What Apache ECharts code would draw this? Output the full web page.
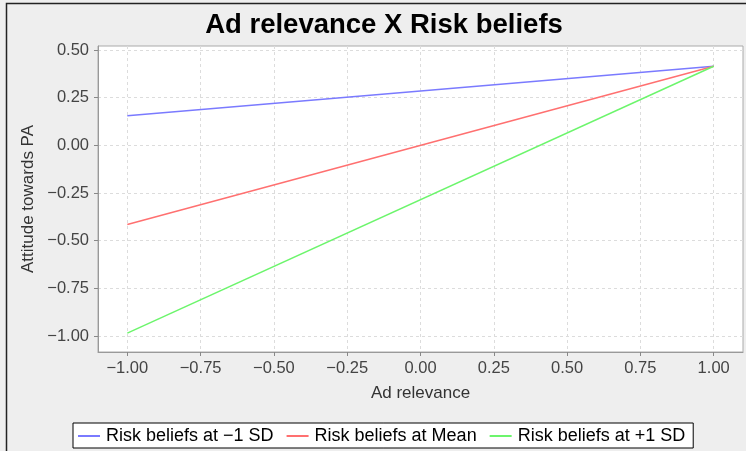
<!DOCTYPE html>
<html><head><meta charset="utf-8">
<script src="https://cdn.jsdelivr.net/npm/echarts@6/dist/echarts.min.js"></script>
<style>html,body{margin:0;padding:0;background:#eeeeee}#c{width:746px;height:451px}</style>
</head><body><div id="c"></div>
<script>
const xValues = [-1, 1];
const lowSD = [0.155, 0.415];
const meanVals = [-0.415, 0.415];
const highSD = [-0.985, 0.415];
const seriesNames = ['Risk beliefs at \u22121 SD', 'Risk beliefs at Mean', 'Risk beliefs at +1 SD'];
const xTicks = [-1, -0.75, -0.5, -0.25, 0, 0.25, 0.5, 0.75, 1];
const yTicks = [-1, -0.75, -0.5, -0.25, 0, 0.25, 0.5];
const colors = ['#7a7aff', '#ff7070', '#6cf56c'];

const FONT = 'Liberation Sans, Arial, sans-serif';
function fmt(v){ const s = Math.abs(v).toFixed(2); return (v < 0 ? '\u2212' : '') + s; }
function pts(ys){ return xValues.map((x,i)=>[x, ys[i]]); }

const chart = echarts.init(document.getElementById('c'), null, {renderer:'canvas'});
const axisCommon = {
  axisLine:{show:true, onZero:false, lineStyle:{color:'#999'}},
  axisTick:{show:true, length:4, lineStyle:{color:'#888'}},
  splitLine:{show:true, lineStyle:{color:'#dcdcdc', type:[3,3]}},
  axisLabel:{color:'#444', fontSize:16.5, fontFamily:FONT, formatter:fmt},
  nameTextStyle:{color:'#333', fontSize:17, fontFamily:FONT}
};
chart.setOption({
  backgroundColor:'#eeeeee',
  animation:false,
  title:{text:'Ad relevance X Risk beliefs', left:379, textAlign:'center', top:6,
    textStyle:{fontSize:27.5, fontWeight:'bold', color:'#000', fontFamily:FONT}},
  grid:{left:98, right:3, top:46, bottom:99, show:true, backgroundColor:'#fff', borderColor:'#aaa', borderWidth:1},
  xAxis:Object.assign({}, axisCommon, {
    type:'value', min:-1.1, max:1.1, name:'Ad relevance', nameLocation:'middle', nameGap:32.5,
    axisTick:Object.assign({}, axisCommon.axisTick, {customValues:xTicks}),
    axisLabel:Object.assign({}, axisCommon.axisLabel, {customValues:xTicks, margin:8})
  }),
  yAxis:Object.assign({}, axisCommon, {
    type:'value', min:-1.084, max:0.521, name:'Attitude towards PA', nameLocation:'middle', nameGap:59.5,
    axisTick:Object.assign({}, axisCommon.axisTick, {customValues:yTicks}),
    axisLabel:Object.assign({}, axisCommon.axisLabel, {customValues:yTicks, margin:9})
  }),
  legend:{
    left:73, top:423, orient:'horizontal',
    backgroundColor:'#fff', borderColor:'#000', borderWidth:1, borderRadius:0,
    padding:[4,8,3,5], itemGap:13, itemWidth:22, itemHeight:2, icon:'rect',
    textStyle:{fontSize:18, color:'#000', fontFamily:FONT, padding:[0,0,0,1]},
    data:seriesNames
  },
  graphic:[{type:'rect', shape:{x:6.5, y:3.5, width:760, height:460}, style:{fill:'none', stroke:'#222', lineWidth:1.5}, silent:true, z:100}],
  series:[
    {name:seriesNames[0], type:'line', data:pts(lowSD), showSymbol:false, lineStyle:{color:colors[0], width:1.5}, itemStyle:{color:colors[0]}},
    {name:seriesNames[1], type:'line', data:pts(meanVals), showSymbol:false, lineStyle:{color:colors[1], width:1.5}, itemStyle:{color:colors[1]}},
    {name:seriesNames[2], type:'line', data:pts(highSD), showSymbol:false, lineStyle:{color:colors[2], width:1.5}, itemStyle:{color:colors[2]}}
  ]
});
</script></body></html>
